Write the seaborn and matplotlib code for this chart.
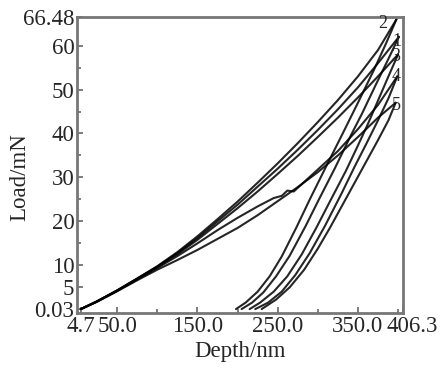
import matplotlib
matplotlib.use("Agg")
import matplotlib.pyplot as plt
import matplotlib.transforms as mtransforms
import pandas as pd
import seaborn as sns
from matplotlib.ticker import FixedLocator


CURVES = ["2", "1", "3", "4", "5"]

# loading branches (depth nm, load mN)
LOAD_D = {
    "2": [4.7, 25, 50, 75, 100, 125, 150, 175, 200, 225, 250, 275, 300, 325, 350, 375, 398],
    "1": [4.7, 25, 50, 75, 100, 125, 150, 175, 200, 225, 250, 275, 300, 325, 350, 375, 401],
    "3": [4.7, 25, 50, 75, 100, 125, 150, 175, 200, 225, 250, 275, 300, 325, 350, 375, 400],
    "4": [4.7, 25, 50, 75, 100, 125, 150, 175, 200, 225, 245, 255, 262, 270, 285,
          300, 325, 350, 375, 399],
    "5": [4.7, 25, 50, 75, 100, 125, 150, 175, 200, 225, 250, 275, 300, 325, 350, 375, 397],
}
LOAD_L = {
    "2": [0.03, 1.8, 4.3, 7.0, 9.8, 13.0, 16.6, 20.5, 24.5, 28.8, 33.2, 37.8, 42.6,
          47.6, 53.0, 59.0, 66.0],
    "1": [0.03, 1.8, 4.3, 7.0, 9.7, 12.8, 16.2, 20.0, 23.8, 27.9, 32.0, 36.3, 40.8,
          45.5, 50.5, 56.0, 62.0],
    "3": [0.03, 1.8, 4.2, 6.9, 9.6, 12.5, 15.8, 19.4, 23.0, 26.8, 30.8, 34.9, 39.2,
          43.6, 48.2, 53.0, 58.0],
    "4": [0.03, 1.8, 4.2, 6.8, 9.4, 12.1, 15.0, 18.0, 20.8, 23.4, 25.3, 25.8, 27.0,
          26.8, 29.3, 31.8, 36.0, 41.0, 46.5, 53.0],
    "5": [0.03, 1.7, 4.1, 6.6, 9.0, 11.2, 13.5, 16.0, 18.5, 21.4, 24.6, 27.8, 31.2,
          35.0, 39.2, 43.6, 47.0],
}

# unloading branches
UNLOAD_D = {
    "2": [398, 385, 370, 350, 331, 309, 290, 273, 255, 240, 225, 210, 198],
    "1": [401, 388, 372, 355, 341, 321, 300, 285, 265, 248, 232, 218, 205],
    "3": [400, 388, 375, 362, 348, 335, 315, 298, 280, 262, 245, 228, 215],
    "4": [399, 388, 375, 360, 346, 330, 309, 290, 272, 255, 238, 222],
    "5": [397, 388, 375, 360, 345, 330, 315, 300, 283, 265, 248, 230],
}
UNLOAD_L = {
    "2": [66.0, 60.5, 54.5, 47.0, 40.0, 32.0, 25.0, 18.5, 12.0, 7.5, 4.0, 1.5, 0.03],
    "1": [62.0, 57.0, 51.0, 44.5, 39.5, 32.0, 24.5, 19.0, 12.2, 7.5, 3.8, 1.5, 0.03],
    "3": [58.0, 53.0, 47.5, 42.0, 36.5, 31.5, 24.5, 18.5, 12.5, 7.5, 4.0, 1.5, 0.03],
    "4": [53.0, 48.0, 43.0, 37.5, 32.5, 26.5, 19.0, 12.8, 7.8, 4.0, 1.5, 0.03],
    "5": [47.0, 43.0, 38.5, 33.5, 28.5, 23.5, 18.5, 13.8, 9.0, 5.0, 2.2, 0.03],
}

# curve number labels (depth, load)
LABEL_POS = {"2": (381, 65.0), "1": (398, 61.0), "3": (397, 57.5),
             "4": (398, 53.0), "5": (398, 46.3)}

X_TICKS = [4.7, 50, 150, 250, 350, 406.3]
X_TICK_LABELS = ["4.7", "50.0", "150.0", "250.0", "350.0", "406.3"]
Y_TICKS = [0.03, 5, 10, 20, 30, 40, 50, 60, 66.48]
Y_TICK_LABELS = ["0.03", "5", "10", "20", "30", "40", "50", "60", "66.48"]


def build_frame():
    rows = []
    for c in CURVES:
        for i, (x, y) in enumerate(zip(LOAD_D[c], LOAD_L[c])):
            rows.append({"depth": x, "load": y, "seg": f"{c}-load", "order": i})
        for i, (x, y) in enumerate(zip(UNLOAD_D[c], UNLOAD_L[c])):
            rows.append({"depth": x, "load": y, "seg": f"{c}-unload", "order": i})
    return pd.DataFrame(rows)


def main():
    sns.set_style("ticks")
    plt.rcParams["font.family"] = ["Liberation Serif", "DejaVu Serif"]

    df = build_frame()
    fig = plt.figure(figsize=(4.43, 3.81), dpi=100)
    ax = fig.add_axes([0.174, 0.178, 0.736, 0.777])

    sns.lineplot(data=df, x="depth", y="load", units="seg", estimator=None,
                 sort=False, color="black", lw=1.5, alpha=0.85, ax=ax)

    for c, (x, y) in LABEL_POS.items():
        ax.text(x, y, c, fontsize=13, ha="center", va="center")

    ax.set_xlim(0, 406.3)
    ax.set_ylim(-0.9, 66.48)
    ax.set_xticks(X_TICKS)
    ax.set_xticklabels(X_TICK_LABELS, fontsize=16.5)
    ax.set_yticks(Y_TICKS)
    ax.set_yticklabels(Y_TICK_LABELS, fontsize=16.5)
    ax.xaxis.set_minor_locator(FixedLocator([100, 200, 300, 400]))
    ax.yaxis.set_minor_locator(FixedLocator([15, 25, 35, 45, 55]))
    ax.tick_params(which="both", direction="in", length=3, width=1.2,
                   color="#666666", pad=2)
    ax.tick_params(which="major", length=4)
    # last x label sits a little right of the frame
    last = ax.get_xticklabels()[-1]
    last.set_transform(last.get_transform() +
                       mtransforms.ScaledTranslation(0.09, 0, fig.dpi_scale_trans))
    for s in ax.spines.values():
        s.set_color("#777777")
        s.set_linewidth(2)
    ax.set_xlabel("Depth/nm", fontsize=16.5, labelpad=3)
    ax.set_ylabel("Load/mN", fontsize=16.5)
    ax.yaxis.set_label_coords(-0.144, 0.46)

    fig.savefig("out.png", dpi=100)


if __name__ == "__main__":
    main()
